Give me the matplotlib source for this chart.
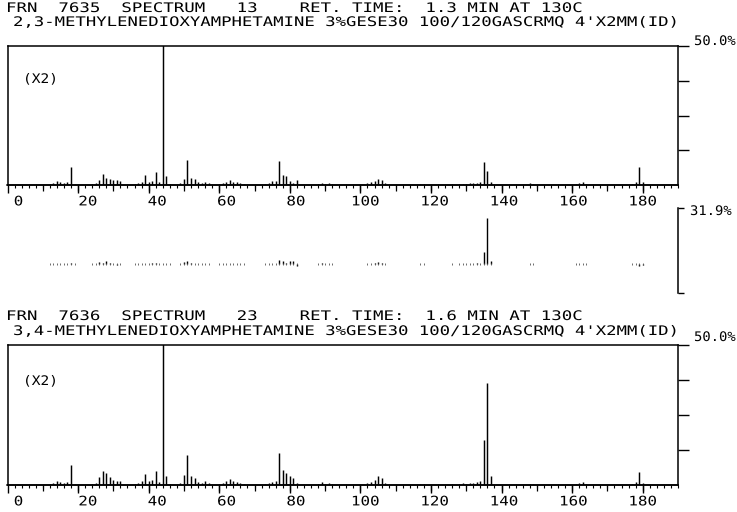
import matplotlib
matplotlib.use("Agg")
import numpy as np
import matplotlib.pyplot as plt
from matplotlib.patheffects import AbstractPathEffect
from matplotlib.transforms import Affine2D, ScaledTranslation
from matplotlib.ticker import MultipleLocator

mz = [12, 13, 14, 15, 16, 17, 18, 19,
      24, 25, 26, 27, 28, 29, 30, 31, 32,
      36, 37, 38, 39, 40, 41, 42, 43, 44, 45, 46,
      49, 50, 51, 52, 53, 54, 55, 56, 57,
      60, 61, 62, 63, 64, 65, 66, 67,
      73, 74, 75, 76, 77, 78, 79, 80, 81, 82,
      88, 89, 90, 91, 92,
      102, 103, 104, 105, 106, 107,
      117, 118,
      126, 128, 129, 130, 131, 132, 133, 134, 135, 136, 137,
      148, 149,
      161, 162, 163, 164,
      177, 178, 179, 180]

# intensidad relativa (%) - 2,3-MDA (FRN 7635)
int_23 = [0.4, 0.7, 1.4, 1.1, 0.7, 1.1, 6.4, 0.4,
          0.4, 0.7, 1.8, 4.0, 2.5, 2.2, 1.8, 1.8, 1.4,
          0.4, 0.7, 1.1, 3.6, 1.1, 1.4, 4.6, 1.1, 100, 3.3, 0.4,
          0.7, 2.2, 9.1, 2.5, 2.2, 1.1, 0.7, 1.1, 0.7,
          0.4, 0.7, 1.1, 1.8, 1.1, 1.1, 0.7, 0.4,
          0.4, 0.7, 1.4, 1.4, 8.7, 3.6, 3.3, 1.4, 0.7, 1.8,
          0.4, 0.7, 0.4, 0.7, 0.4,
          0.7, 1.1, 1.4, 2.2, 1.8, 0.7,
          0.4, 0.4,
          0.4, 0.4, 0.4, 0.4, 0.7, 0.7, 0.7, 1.1, 8.2, 5.2, 1.1,
          0.7, 0.4,
          0.4, 0.7, 1.1, 0.4,
          0.4, 1.1, 6.4, 1.1]

# intensidad relativa (%) - 3,4-MDA (FRN 7636)
int_34 = [0.4, 0.7, 1.4, 1.1, 0.7, 1.1, 7.1, 0.4,
          0.4, 0.7, 2.9, 4.9, 4.2, 2.9, 1.8, 1.4, 1.4,
          0.4, 0.7, 1.4, 3.9, 1.4, 1.8, 5.1, 1.1, 100, 3.1, 0.4,
          0.7, 3.6, 10.8, 3.1, 2.5, 1.1, 0.7, 1.4, 0.7,
          0.4, 0.7, 1.4, 2.1, 1.4, 1.1, 0.7, 0.4,
          0.4, 0.7, 1.1, 1.4, 11.4, 5.4, 4.2, 3.3, 2.5, 0.7,
          0.4, 1.1, 0.4, 0.7, 0.4,
          0.7, 1.1, 1.8, 3.3, 2.6, 0.7,
          0.4, 0.4,
          0.4, 0.4, 0.7, 0.4, 0.7, 0.7, 1.1, 1.4, 16.1, 36.4, 3.3,
          0.4, 0.4,
          0.4, 0.7, 1.1, 0.4,
          0.4, 1.1, 4.7, 0.7]

diff = np.array(int_34) - np.array(int_23)

tick_vals = list(range(0, 181, 20))
tick_labels = [str(v) for v in tick_vals]

title_a1 = "FRN  7635  SPECTRUM   13    RET. TIME:  1.3 MIN AT 130C"
title_a2 = "2,3-METHYLENEDIOXYAMPHETAMINE 3%GESE30 100/120GASCRMQ 4'X2MM(ID)"
title_b1 = "FRN  7636  SPECTRUM   23    RET. TIME:  1.6 MIN AT 130C"
title_b2 = "3,4-METHYLENEDIOXYAMPHETAMINE 3%GESE30 100/120GASCRMQ 4'X2MM(ID)"

W, H = 737, 512
FONT = "DejaVu Sans Mono"
FS = 9.5
plt.rcParams['font.family'] = FONT


class Widen(AbstractPathEffect):
    """ensancha el texto en horizontal (letra de plotter)"""
    def __init__(self, sx):
        super().__init__()
        self.sx = sx

    def draw_path(self, renderer, gc, tpath, affine, rgbFace=None):
        renderer.draw_path(gc, tpath, Affine2D().scale(self.sx, 1.0) + affine, rgbFace)


fig = plt.figure(figsize=(W / 100, H / 100), dpi=100)


def px_text(x, y, s, sx):
    t = fig.text(x / W, 1 - y / H, s, ha='left', va='baseline', fontsize=FS)
    t.set_path_effects([Widen(sx)])


def px_axes(y_top, y_bot):
    return fig.add_axes([7.5 / W, 1 - y_bot / H, 670.5 / W, (y_bot - y_top) / H])


def spectrum(ax, inten):
    ax.vlines(mz, 0, inten, color='black', lw=1.05)
    ax.set_xlim(0, 190)
    ax.set_ylim(0, 50)
    for s in ax.spines.values():
        s.set_linewidth(1.1)
    ax.yaxis.tick_right()
    ax.set_yticks([12.5, 25, 37.5, 50], labels=[])
    ax.tick_params(axis='y', direction='out', length=8, width=1.0)
    ax.set_xticks(tick_vals, labels=tick_labels)
    ax.xaxis.set_minor_locator(MultipleLocator(2))
    ax.tick_params(axis='x', which='major', direction='out', length=6, width=1.0,
                   pad=1.5, labelsize=FS)
    ax.tick_params(axis='x', which='minor', direction='out', length=2, width=0.8)
    sec = ax.secondary_xaxis('bottom')
    sec.set_xticks(range(10, 190, 10))
    sec.tick_params(length=4, width=0.9, labelbottom=False)
    sec.spines['bottom'].set_linewidth(1.1)
    pitch = 0.602 * FS * 100 / 72 * 1.2
    for k, lbl in enumerate(ax.get_xticklabels()):
        shift = 11 - 11 * k / 9 - len(lbl.get_text()) * pitch / 2
        lbl.set_horizontalalignment('left')
        lbl.set_transform(lbl.get_transform() +
                          ScaledTranslation(shift / 100, 0, fig.dpi_scale_trans))
        lbl.set_path_effects([Widen(1.2)])


# --- espectro 2,3-MDA ---
ax1 = px_axes(46, 185)
spectrum(ax1, int_23)

# --- diferencia ---
ax2 = px_axes(208, 293)
ax2.vlines(mz, 0, diff, color='black', lw=1.0)
ax2.plot(mz, np.zeros(len(mz)), '|', color='#555555', markersize=1.4, mew=0.6)
ax2.set_xlim(0, 190)
ax2.set_ylim(-19.7, 38.0)
for side in ['left', 'top', 'bottom']:
    ax2.spines[side].set_visible(False)
ax2.spines['right'].set_linewidth(1.1)
ax2.set_xticks([])
ax2.yaxis.tick_right()
ax2.set_yticks([-19.7, 38.0], labels=[])
ax2.tick_params(axis='y', direction='out', length=4, width=1.0)

# --- espectro 3,4-MDA ---
ax3 = px_axes(345, 485)
spectrum(ax3, int_34)

# textos
px_text(6, 12, title_a1, 1.32)
px_text(13, 26, title_a2, 1.31)
px_text(6, 320, title_b1, 1.32)
px_text(13, 335, title_b2, 1.31)
px_text(694, 45, "50.0%", 1.05)
px_text(690, 215, "31.9%", 1.05)
px_text(694, 341, "50.0%", 1.05)
px_text(23, 83, "(X2)", 1.1)
px_text(23, 385, "(X2)", 1.1)

fig.savefig("out.png", dpi=100)
